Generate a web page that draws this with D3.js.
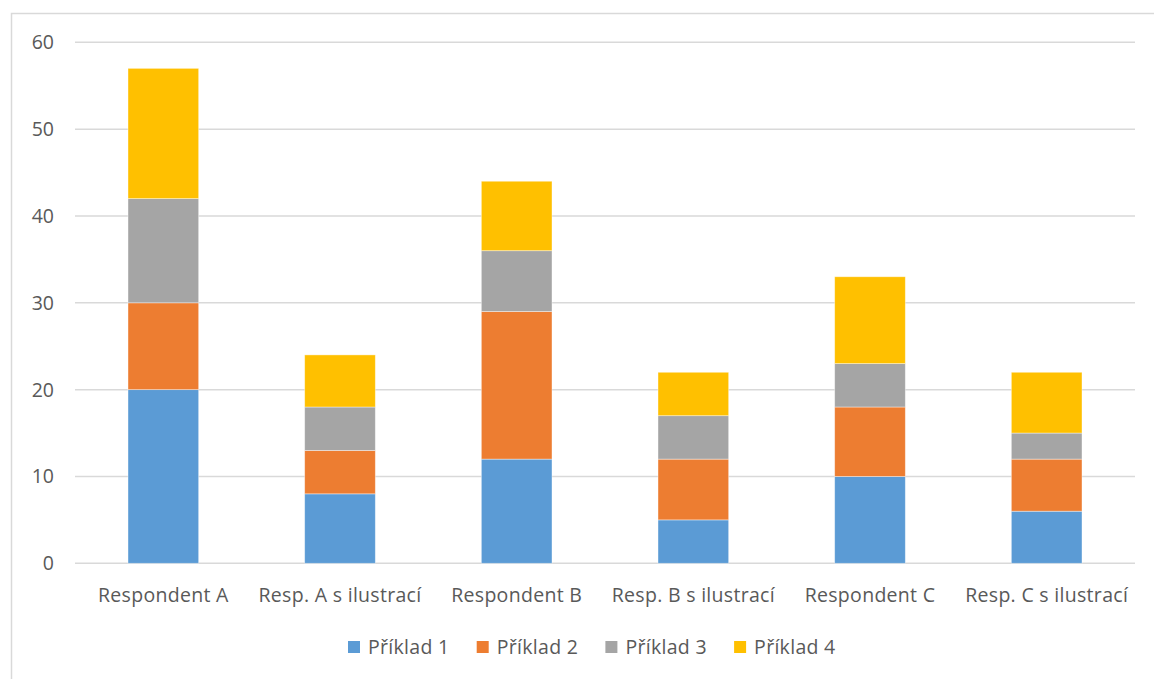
<!DOCTYPE html>
<html>
<head>
<meta charset="utf-8">
<script src="https://cdn.jsdelivr.net/npm/d3@7"></script>
<style>
  html, body { margin: 0; padding: 0; background: #fff; }
  svg { display: block; }
  text { font-family: "Open Sans", "Noto Sans", sans-serif; fill: #595959; }
</style>
</head>
<body>
<svg id="chart" width="1154" height="679"></svg>
<script>
// Categories (respondents) and the four series stacked in each bar
const categories = ["Respondent A", "Resp. A s ilustrací", "Respondent B", "Resp. B s ilustrací", "Respondent C", "Resp. C s ilustrací"];
const seriesNames = ["Příklad 1", "Příklad 2", "Příklad 3", "Příklad 4"];
const priklad1 = [20, 8, 12, 5, 10, 6];
const priklad2 = [10, 5, 17, 7, 8, 6];
const priklad3 = [12, 5, 7, 5, 5, 3];
const priklad4 = [15, 6, 8, 5, 10, 7];
const yTicks = [0, 10, 20, 30, 40, 50, 60];
const colors = ["#5b9bd5", "#ed7d31", "#a5a5a5", "#ffc000"];

const seriesValues = [priklad1, priklad2, priklad3, priklad4];
const rows = categories.map((c, i) => {
  const r = { category: c };
  seriesNames.forEach((s, j) => { r[s] = seriesValues[j][i]; });
  return r;
});

const svg = d3.select("#chart");
const fontFamily = '"Open Sans", "Noto Sans", sans-serif';

// Outer chart frame
svg.append("rect")
  .attr("x", 11.5).attr("y", 13.5)
  .attr("width", 1160).attr("height", 700)
  .attr("fill", "none").attr("stroke", "#d9d9d9").attr("stroke-width", 1.5);

const plot = { left: 75, right: 1135, top: 42.3, bottom: 563.3 };

const x = d3.scaleBand().domain(categories).range([plot.left, plot.right]).paddingInner(0.6).paddingOuter(0.3);
const y = d3.scaleLinear().domain([0, 60]).range([plot.bottom, plot.top]);

// Horizontal gridlines
svg.append("g").selectAll("line").data(yTicks).join("line")
  .attr("x1", plot.left).attr("x2", plot.right)
  .attr("y1", d => y(d)).attr("y2", d => y(d))
  .attr("stroke", "#d9d9d9").attr("stroke-width", 1.5);

// Y axis labels
const yAxis = d3.axisLeft(y).tickValues(yTicks).tickSize(0).tickPadding(0);
const gy = svg.append("g").attr("transform", `translate(54,0)`).call(yAxis);
gy.select(".domain").remove();
gy.selectAll("text").style("font-size", "19.5px").attr("fill", "#595959").attr("dy", "0.33em")
  .style("font-family", fontFamily);

// Stacked bars
const stack = d3.stack().keys(seriesNames)(rows);
svg.append("g").selectAll("g").data(stack).join("g")
  .attr("fill", (d, i) => colors[i])
  .selectAll("rect").data(d => d).join("rect")
  .attr("x", d => x(d.data.category))
  .attr("width", x.bandwidth())
  .attr("y", d => y(d[1]))
  .attr("height", d => y(d[0]) - y(d[1]))
  .attr("stroke", "#ffffff").attr("stroke-opacity", 0.5).attr("stroke-width", 0.8);

// Category labels
const xAxis = d3.axisBottom(x).tickSize(0).tickPadding(0);
const gx = svg.append("g").attr("transform", `translate(0,${plot.bottom + 32})`).call(xAxis);
gx.select(".domain").remove();
gx.selectAll("text").attr("dy", "0.35em").style("font-size", "19.5px").attr("fill", "#595959")
  .style("letter-spacing", "0.3px")
  .style("font-family", fontFamily);

// Legend
const legend = svg.append("g").attr("transform", "translate(348,647)");
const item = legend.selectAll("g").data(seriesNames).join("g")
  .attr("transform", (d, i) => `translate(${i * 128.7},0)`);
item.append("rect").attr("x", 0).attr("y", -6).attr("width", 12).attr("height", 12)
  .attr("fill", (d, i) => colors[i]);
item.append("text").attr("x", 20).attr("dy", "0.35em")
  .style("font-size", "19.5px").style("letter-spacing", "0.3px").text(d => d);
</script>
</body>
</html>
